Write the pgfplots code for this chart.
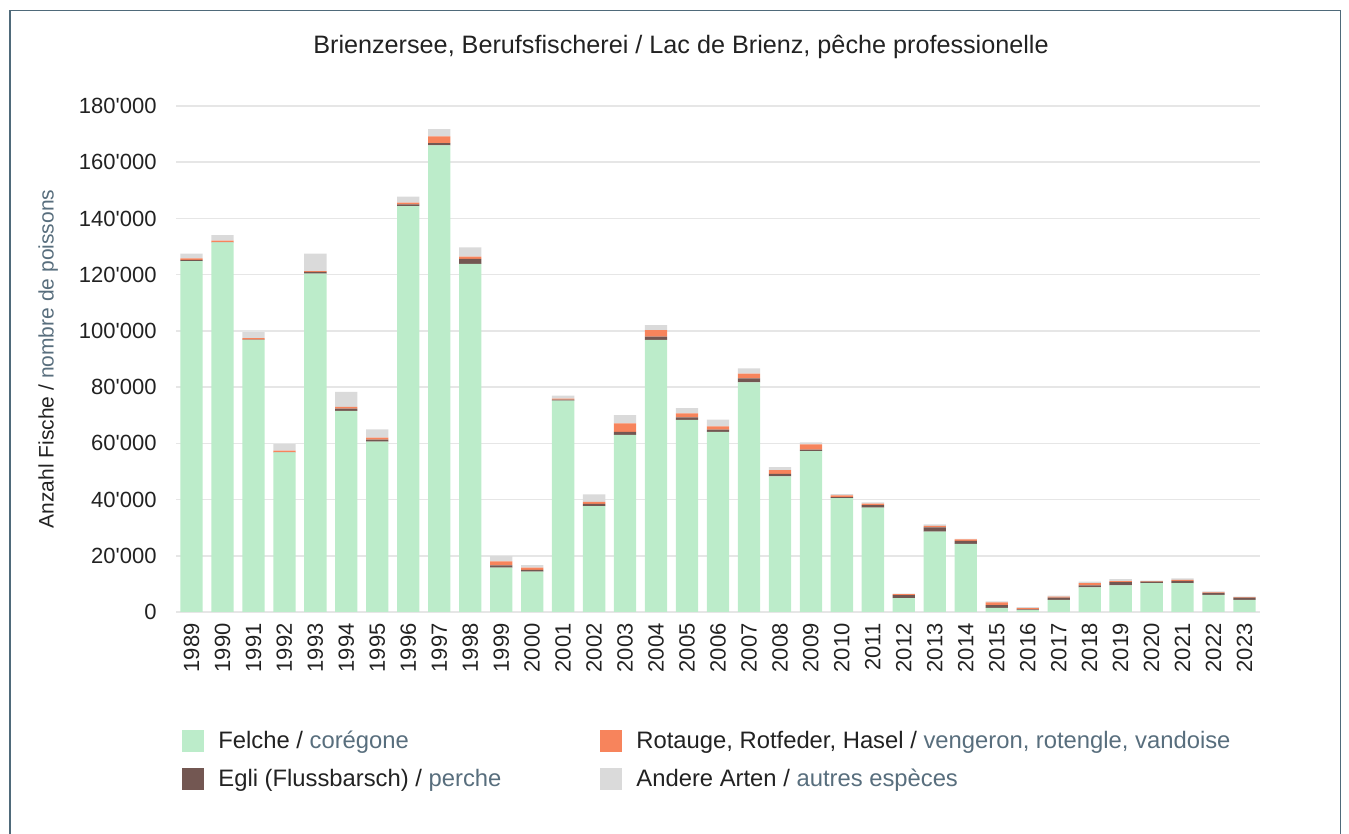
\documentclass[border=0pt]{standalone}
\usepackage{pgfplots}
\pgfplotsset{compat=1.18}
\usepackage{pgfplotstable}
\usepackage{fontspec}
\setmainfont{Liberation Sans}

\definecolor{felche}{RGB}{188,236,202}
\definecolor{egli}{RGB}{115,87,82}
\definecolor{rot}{RGB}{247,132,92}
\definecolor{andere}{RGB}{218,218,218}
\definecolor{gridc}{RGB}{230,230,230}
\definecolor{slate}{RGB}{88,110,125}
\definecolor{framec}{RGB}{79,106,122}
\definecolor{txt}{RGB}{34,34,34}

\pgfplotstableread{
x year F E R A
0 1989 124800 500 500 1700
1 1990 131500 100 500 2000
2 1991 96800 100 500 2200
3 1992 56800 100 500 2300
4 1993 120400 600 300 6200
5 1994 71500 800 700 5300
6 1995 60600 700 700 3000
7 1996 144400 600 600 2200
8 1997 166000 800 2400 2600
9 1998 123800 1800 800 3300
10 1999 15800 800 1400 1900
11 2000 14400 600 800 900
12 2001 75200 350 350 1100
13 2002 37700 800 700 2600
14 2003 63000 1100 3000 2900
15 2004 96800 1200 2250 1800
16 2005 68300 950 1400 1900
17 2006 64100 800 1100 2400
18 2007 81700 1400 1700 1900
19 2008 48200 950 1300 1100
20 2009 57200 600 1800 700
21 2010 40500 350 600 500
22 2011 37100 950 500 450
23 2012 4900 1100 350 200
24 2013 28600 1500 500 600
25 2014 24200 1100 500 200
26 2015 1500 950 950 400
27 2016 700 200 500 300
28 2017 4300 800 350 350
29 2018 8800 700 800 500
30 2019 9500 1100 350 700
31 2020 10300 500 200 200
32 2021 10300 800 350 500
33 2022 6100 700 200 350
34 2023 4300 800 200 200
}\datatable

\begin{document}
\begin{tikzpicture}[x=1pt,y=1pt]
\useasboundingbox (0,0) rectangle (674.5,417);
\draw[framec, line width=0.8pt] (5,-1) -- (5,411.75) -- (670.25,411.75) -- (670.25,-1);
\node[font=\fontsize{12.6}{15}\selectfont, text=txt] at (340.5,393.5) {Brienzersee, Berufsfischerei / Lac de Brienz, pêche professionelle};
\begin{axis}[
  at={(88pt,111pt)}, anchor=south west,
  width=542pt, height=253pt, scale only axis,
  xmin=-0.5, xmax=34.5, ymin=0, ymax=180000,
  ybar stacked, bar width=11.15pt,
  axis line style={draw=none},
  major tick length=0pt,
  ymajorgrids, grid style={color=gridc, line width=0.75pt},
  ytick={0,20000,...,180000},
  yticklabels={0,20\textquotesingle000,40\textquotesingle000,60\textquotesingle000,80\textquotesingle000,100\textquotesingle000,120\textquotesingle000,140\textquotesingle000,160\textquotesingle000,180\textquotesingle000},
  scaled y ticks=false,
  xtick={0,...,34},
  xticklabels from table={\datatable}{year},
  tick label style={font=\fontsize{11}{13}\selectfont, text=txt},
  yticklabel style={anchor=east, inner sep=0pt},
  yticklabel shift=9.5pt,
  xticklabel style={rotate=90, anchor=east, inner sep=0pt},
  xticklabel shift=5.5pt,
  ylabel={Anzahl Fische / \textcolor{slate}{nombre de poissons}},
  ylabel style={at={(axis description cs:-0.118,0.5)}, anchor=center, font=\fontsize{10.5}{12.5}\selectfont, text=txt},
  legend columns=2, transpose legend,
  legend image code/.code={\fill[#1] (0pt,-5.5pt) rectangle (11pt,5.5pt);},
  legend cell align=left,
  legend style={at={(axis description cs:0,-0.219)}, anchor=north west, draw=none, fill=none,
    font=\fontsize{11.9}{14}\selectfont, text=txt, row sep=4.5pt,
    /tikz/every odd column/.append style={column sep=5pt},
    /tikz/every even column/.append style={column sep=47.5pt}},
]
\addplot[fill=felche, draw=none] table[x=x,y=F]{\datatable};
\addlegendentry{Felche / \textcolor{slate}{corégone}}
\addplot[fill=egli, draw=none] table[x=x,y=E]{\datatable};
\addlegendentry{Egli (Flussbarsch) / \textcolor{slate}{perche}}
\addplot[fill=rot, draw=none] table[x=x,y=R]{\datatable};
\addlegendentry{Rotauge, Rotfeder, Hasel / \textcolor{slate}{vengeron, rotengle, vandoise}}
\addplot[fill=andere, draw=none] table[x=x,y=A]{\datatable};
\addlegendentry{Andere Arten / \textcolor{slate}{autres espèces}}
\end{axis}
\end{tikzpicture}
\end{document}
